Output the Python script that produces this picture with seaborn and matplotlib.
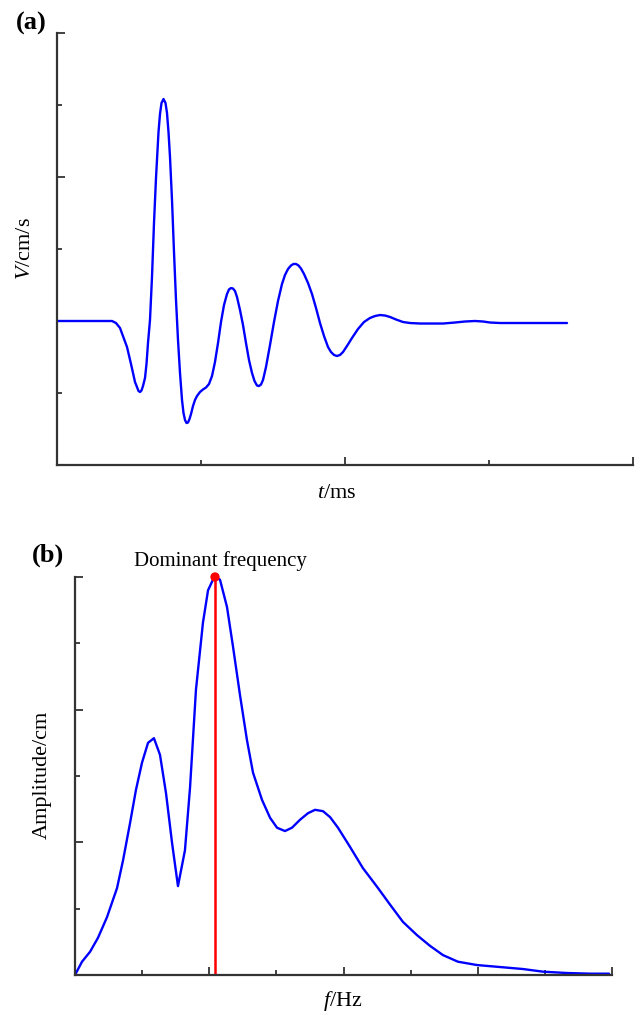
import numpy as np
import pandas as pd
import matplotlib
matplotlib.use("Agg")
import matplotlib.pyplot as plt
import seaborn as sns
from matplotlib.ticker import MultipleLocator

# ---------------- data ----------------
# Panel (a): velocity waveform (t in ms, V in cm/s)
t_ms = [0.0, 3.819, 4.097, 4.375, 4.861, 5.139, 5.417, 5.660, 5.764, 5.868, 5.972, 6.111, 6.215,
        6.319, 6.458, 6.597, 6.736, 6.875, 7.049, 7.153, 7.257, 7.396, 7.535, 7.639, 7.743,
        7.847, 7.986, 8.125, 8.264, 8.403, 8.542, 8.681, 8.785, 8.889, 8.993, 9.097, 9.201,
        9.306, 9.444, 9.583, 9.722, 9.931, 10.139, 10.347, 10.556, 10.764, 10.972, 11.181,
        11.389, 11.597, 11.806, 11.944, 12.083, 12.222, 12.361, 12.500, 12.708, 12.917,
        13.125, 13.333, 13.542, 13.715, 13.889, 14.028, 14.167, 14.306, 14.514, 14.792,
        15.069, 15.347, 15.625, 15.833, 16.042, 16.250, 16.424, 16.597, 16.771, 16.944,
        17.153, 17.431, 17.708, 17.986, 18.264, 18.542, 18.819, 19.028, 19.236, 19.444,
        19.653, 19.861, 20.139, 20.486, 20.903, 21.319, 21.736, 22.083, 22.431, 22.778,
        23.125, 23.542, 24.028, 24.514, 25.208, 26.806, 27.639, 28.333, 29.028, 29.583,
        30.069, 30.764, 32.153, 33.542, 35.417]
v_cms = [0.0, 0.0, -0.028, -0.097, -0.361, -0.597, -0.847, -0.972, -0.986, -0.965, -0.903, -0.792,
         -0.597, -0.306, 0.014, 0.611, 1.361, 1.986, 2.625, 2.875, 3.028, 3.083, 3.028, 2.889,
         2.625, 2.278, 1.681, 0.958, 0.292, -0.264, -0.722, -1.097, -1.278, -1.375, -1.417,
         -1.410, -1.361, -1.292, -1.181, -1.097, -1.042, -0.986, -0.951, -0.924, -0.875,
         -0.764, -0.569, -0.306, -0.014, 0.222, 0.375, 0.438, 0.458, 0.451, 0.417, 0.333,
         0.153, -0.056, -0.306, -0.542, -0.722, -0.833, -0.896, -0.903, -0.882, -0.819,
         -0.639, -0.333, -0.014, 0.278, 0.514, 0.639, 0.722, 0.771, 0.792, 0.792, 0.771,
         0.729, 0.653, 0.528, 0.375, 0.181, -0.028, -0.208, -0.361, -0.431, -0.472, -0.486,
         -0.472, -0.431, -0.347, -0.236, -0.111, -0.014, 0.042, 0.069, 0.083, 0.076,
         0.056, 0.021, -0.014, -0.028, -0.035, -0.035, -0.021, -0.007, 0.0, -0.007,
         -0.021, -0.028, -0.028, -0.028, -0.028]

# Panel (b): amplitude spectrum (f in Hz, amplitude in cm)
f_hz = [0.0, 5.2, 11.2, 17.1, 23.8, 31.3, 35.8, 41.0, 45.4, 49.9, 54.4, 58.8, 63.3, 67.8,
        72.3, 76.7, 81.9, 85.7, 90.1, 95.3, 99.1, 102.8, 104.3, 108.0, 113.2, 117.7, 122.9,
        128.1, 132.6, 139.3, 145.3, 150.5, 156.4, 161.6, 167.6, 173.6, 178.8, 184.7, 190.0,
        195.9, 204.9, 214.5, 225.0, 234.7, 244.3, 254.8, 264.4, 274.1, 285.3, 299.5, 316.6,
        333.7, 348.6, 366.5, 383.6, 397.8]
amp_cm = [0.0, 0.20, 0.35, 0.56, 0.87, 1.31, 1.73, 2.29, 2.79, 3.20, 3.50, 3.57, 3.32, 2.74,
          1.99, 1.34, 1.88, 2.83, 4.30, 5.31, 5.80, 5.96, 6.00, 5.96, 5.55, 4.95, 4.22,
          3.54, 3.05, 2.64, 2.37, 2.22, 2.17, 2.22, 2.34, 2.44, 2.49, 2.47, 2.38,
          2.22, 1.93, 1.61, 1.33, 1.06, 0.80, 0.60, 0.44, 0.30, 0.20, 0.15, 0.12,
          0.09, 0.05, 0.03, 0.02, 0.02]
dominant_f = 104.3
dominant_amp = 6.0

# ---------------- style ----------------
sns.set_theme(style="ticks")
plt.rcParams['font.family'] = ['Liberation Serif', 'DejaVu Serif']
plt.rcParams['mathtext.fontset'] = 'custom'
plt.rcParams['mathtext.rm'] = 'Liberation Serif'
plt.rcParams['mathtext.it'] = 'Liberation Serif:italic'
plt.rcParams['mathtext.bf'] = 'Liberation Serif:bold'
plt.rcParams['text.color'] = 'black'
plt.rcParams['axes.labelcolor'] = 'black'

spine_col = '#333333'
W, H = 636, 1011
fig = plt.figure(figsize=(W / 100, H / 100), dpi=100)

ax_a = fig.add_axes([57 / W, (H - 465) / H, 576 / W, 432 / H])
ax_b = fig.add_axes([75 / W, (H - 975) / H, 537 / W, 398 / H])

df_a = pd.DataFrame({'t': t_ms, 'v': v_cms})
df_b = pd.DataFrame({'f': f_hz, 'a': amp_cm})

sns.lineplot(data=df_a, x='t', y='v', ax=ax_a, color='#0000FF', linewidth=1.7,
             sort=False, estimator=None)
sns.lineplot(data=df_b, x='f', y='a', ax=ax_b, color='#0000FF', linewidth=1.7,
             sort=False, estimator=None)

df_dom = pd.DataFrame({'f': [dominant_f, dominant_f], 'a': [0.0, dominant_amp]})
sns.lineplot(data=df_dom, x='f', y='a', ax=ax_b, color='#FF0000', linewidth=1.8,
             sort=False, estimator=None)
sns.scatterplot(x=[dominant_f], y=[dominant_amp], ax=ax_b, color='#FF0000', s=45,
                edgecolor='none', zorder=5)

ax_a.set_xlim(0, 40)
ax_a.set_ylim(-2, 4)
ax_b.set_xlim(0, 400)
ax_b.set_ylim(0, 6)

ax_a.xaxis.set_major_locator(MultipleLocator(20))
ax_a.xaxis.set_minor_locator(MultipleLocator(10))
ax_a.yaxis.set_major_locator(MultipleLocator(2))
ax_a.yaxis.set_minor_locator(MultipleLocator(1))
ax_b.xaxis.set_major_locator(MultipleLocator(100))
ax_b.xaxis.set_minor_locator(MultipleLocator(50))
ax_b.yaxis.set_major_locator(MultipleLocator(2))
ax_b.yaxis.set_minor_locator(MultipleLocator(1))

for ax in (ax_a, ax_b):
    for s in ('top', 'right'):
        ax.spines[s].set_visible(False)
    for s in ('left', 'bottom'):
        ax.spines[s].set_color(spine_col)
        ax.spines[s].set_linewidth(1.6)
    ax.tick_params(which='major', direction='in', length=6, width=1.3, color=spine_col,
                   labelbottom=False, labelleft=False)
    ax.tick_params(which='minor', direction='in', length=3.5, width=1.3, color=spine_col,
                   labelbottom=False, labelleft=False)
    for c in ax.collections:
        c.set_clip_on(False)

ax_a.set_xlabel(r'$\mathit{t}$/ms', fontsize=16)
ax_a.set_ylabel(r'$\mathit{V}$/cm/s', fontsize=16)
ax_b.set_xlabel(r'$\mathit{f}$/Hz', fontsize=16)
ax_b.set_ylabel('Amplitude/cm', fontsize=16)

ax_a.xaxis.set_label_coords(0.486, -0.045)
ax_a.yaxis.set_label_coords(-0.038, 0.5)
ax_b.xaxis.set_label_coords(0.499, -0.035)
ax_b.yaxis.set_label_coords(-0.043, 0.503)

ax_b.text(108, 1.028, 'Dominant frequency', transform=ax_b.get_xaxis_transform(),
          ha='center', va='baseline', fontsize=15, color='black')

fig.text(16 / W, 1 - 12 / H, '(a)', fontsize=19, fontweight='bold', ha='left', va='top',
         color='black')
fig.text(32 / W, 1 - 544 / H, '(b)', fontsize=19, fontweight='bold', ha='left', va='top',
         color='black')

fig.savefig('out.png', dpi=100)
